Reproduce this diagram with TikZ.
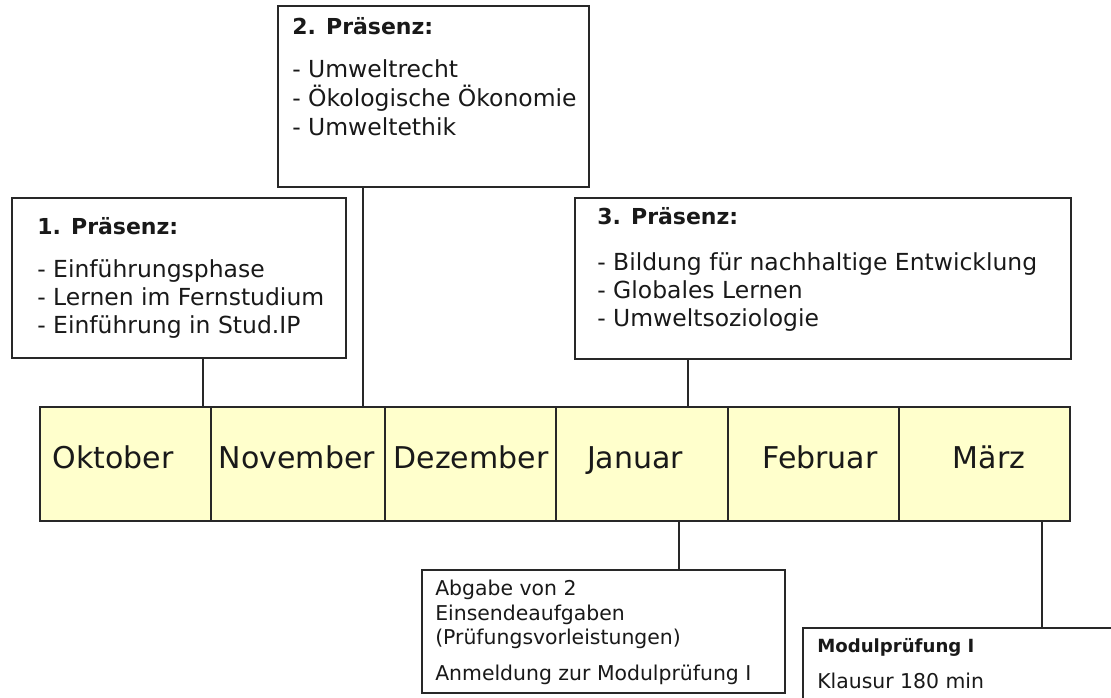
\documentclass[tikz,border=0pt]{standalone}
\usepackage{fontspec}
\setmainfont{DejaVu Sans}
\definecolor{monthfill}{RGB}{255,255,204}
\definecolor{linegray}{RGB}{40,40,40}
\tikzset{
  x=0.75pt, y=-0.75pt,
  box/.style={draw=linegray, line width=1.3pt, fill=white},
  monthbox/.style={draw=linegray, line width=1.3pt, fill=monthfill},
  conn/.style={draw=linegray, line width=1.1pt},
  txt/.style={anchor=base west, inner sep=0pt, font=\fontsize{17.6}{20}\selectfont, text=black!90},
  head/.style={anchor=base west, inner sep=0pt, font=\fontsize{16.5}{20}\selectfont\bfseries, text=black!90},
  small/.style={anchor=base west, inner sep=0pt, font=\fontsize{15.3}{18}\selectfont, text=black!90},
  smallhead/.style={anchor=base west, inner sep=0pt, font=\fontsize{13.6}{16}\selectfont\bfseries, text=black!90},
  month/.style={anchor=base, inner sep=0pt, font=\fontsize{22.5}{24}\selectfont, text=black!90}
}
\begin{document}
\begin{tikzpicture}
\useasboundingbox (0,0) rectangle (1111,698);
\fill[white] (0,0) rectangle (1111,698);

% timeline months
\path[monthbox] (40,407) rectangle (211,521);
\path[monthbox] (211,407) rectangle (385,521);
\path[monthbox] (385,407) rectangle (556,521);
\path[monthbox] (556,407) rectangle (728,521);
\path[monthbox] (728,407) rectangle (899,521);
\path[monthbox] (899,407) rectangle (1070,521);
\node[month] (toktober) at (113,469) {Oktober};
\node[month] (tnovember) at (297,469) {November};
\node[month] (tdezember) at (471,469) {Dezember};
\node[month] (tjanuar) at (635,469) {Januar};
\node[month] (tfebruar) at (820,469) {Februar};
\node[month] (tmaerz) at (989,469) {März};

% connection points on the timeline
\coordinate (c1) at (203,407);
\coordinate (c2) at (363,407);
\coordinate (c3) at (688,407);
\coordinate (c4) at (679,521);
\coordinate (c5) at (1042,521);

% box 1
\path[box] (12,198) rectangle (346,358);
\coordinate (b1s) at (203,358);
\node[head] (b1h) at (37,235) {1. Präsenz:};
\node[txt] (b1a) at (37,278) {- Einführungsphase};
\node[txt] (b1b) at (37,306) {- Lernen im Fernstudium};
\node[txt] (b1c) at (37,334) {- Einführung in Stud.IP};
\draw[conn] (b1s) -- (c1);

% box 2
\path[box] (278,6) rectangle (589,187);
\coordinate (b2s) at (363,187);
\node[head] (b2h) at (292,35) {2. Präsenz:};
\node[txt] (b2a) at (292,78) {- Umweltrecht};
\node[txt] (b2b) at (292,107) {- Ökologische Ökonomie};
\node[txt] (b2c) at (292,136) {- Umweltethik};
\draw[conn] (b2s) -- (c2);

% box 3
\path[box] (575,198) rectangle (1071,359);
\coordinate (b3s) at (688,359);
\node[head] (b3h) at (597,225) {3. Präsenz:};
\node[txt] (b3a) at (597,271) {- Bildung für nachhaltige Entwicklung};
\node[txt] (b3b) at (597,299) {- Globales Lernen};
\node[txt] (b3c) at (597,327) {- Umweltsoziologie};
\draw[conn] (b3s) -- (c3);

% box A
\path[box] (422,570) rectangle (785,693);
\coordinate (bAn) at (679,570);
\node[small] (bAa) at (435,595) {Abgabe von 2};
\node[small] (bAb) at (435,620) {Einsendeaufgaben};
\node[small] (bAc) at (435,644) {(Prüfungsvorleistungen)};
\node[small] (bAd) at (435,680) {Anmeldung zur Modulprüfung I};
\draw[conn] (c4) -- (bAn);

% box M
\path[box] (803,628) rectangle (1125,715);
\coordinate (bMn) at (1042,628);
\node[smallhead] (bMh) at (817,652) {Modulprüfung I};
\node[small] (bMa) at (817,688) {Klausur 180 min};
\draw[conn] (c5) -- (bMn);
\end{tikzpicture}
\end{document}
